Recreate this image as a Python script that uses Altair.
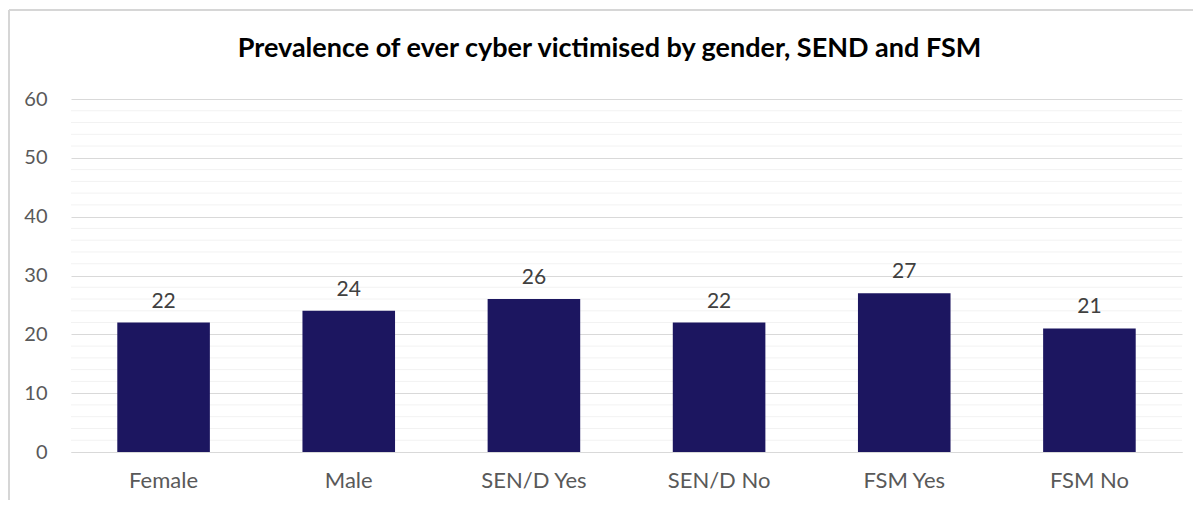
import altair as alt
import pandas as pd

categories = ["Female", "Male", "SEN/D Yes", "SEN/D No", "FSM Yes", "FSM No"]
values = [22, 24, 26, 22, 27, 21]
major_ticks = [0, 10, 20, 30, 40, 50, 60]
minor_ticks = [2, 4, 6, 8, 12, 14, 16, 18, 22, 24, 26, 28, 32, 34, 36, 38, 42, 44, 46, 48, 52, 54, 56, 58]
title_text = "Prevalence of ever cyber victimised by gender, SEND and FSM"

FONT = "Lato"
W, H = 1111, 353

df = pd.DataFrame({"category": categories, "value": values})
grid_df = pd.DataFrame({"v": minor_ticks})

yscale = alt.Scale(domain=[0, 60], nice=False)
xscale = alt.Scale(paddingInner=0.5, paddingOuter=0.25)
yaxis = alt.Axis(title=None, values=major_ticks, grid=True, gridColor="#D9D9D9",
                 domain=False, ticks=False, labelPadding=24, labelFontSize=20,
                 labelColor="#595959", labelFont=FONT)
xaxis = alt.Axis(title=None, labelAngle=0, domain=True, domainColor="#D9D9D9",
                 ticks=False, labelPadding=18, labelFontSize=22,
                 labelColor="#595959", labelFont=FONT)

minor = alt.Chart(grid_df).mark_rule(color="#F2F2F2", strokeWidth=1).encode(
    y=alt.Y("v:Q", scale=yscale, axis=yaxis)
)

bars = alt.Chart(df).mark_bar(color="#1C1660").encode(
    x=alt.X("category:N", sort=categories, scale=xscale, axis=xaxis),
    y=alt.Y("value:Q", scale=yscale, axis=yaxis),
)

labels = alt.Chart(df).mark_text(baseline="bottom", dy=-11, fontSize=21,
                                 color="#404040", font=FONT).encode(
    x=alt.X("category:N", sort=categories, scale=xscale, axis=xaxis),
    y=alt.Y("value:Q", scale=yscale, axis=yaxis),
    text="value:Q",
)

frame_top = alt.Chart(grid_df).mark_rule(color="#D6D6D6", strokeWidth=2).encode(
    x=alt.value(-62), x2=alt.value(W + 20), y=alt.value(-89)
)
frame_left = alt.Chart(grid_df).mark_rule(color="#D6D6D6", strokeWidth=2).encode(
    x=alt.value(-62), y=alt.value(-89), y2=alt.value(H + 48)
)

chart = alt.layer(minor, bars, labels, frame_top, frame_left).properties(
    width=W, height=H,
    autosize=alt.AutoSizeParams(type="none"),
    padding={"left": 63, "top": 91, "right": 11, "bottom": 49},
    title=alt.TitleParams(title_text, font=FONT, fontSize=27, fontWeight="bold",
                          color="#000000", anchor="middle", dx=-17, offset=-81,
                          baseline="bottom", frame="group"),
).configure_view(stroke=None).configure_axis(gridWidth=1)

chart.save("out.html", embed_options={"renderer": "svg", "actions": False})
